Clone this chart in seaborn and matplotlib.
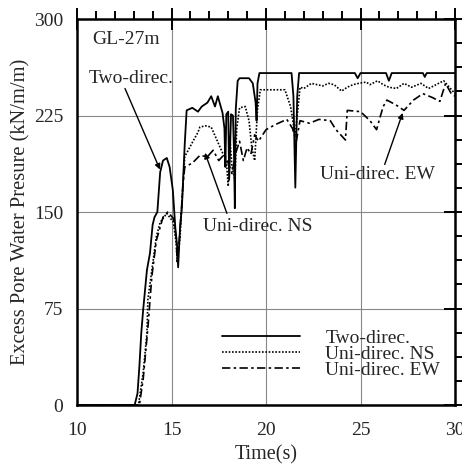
import matplotlib
matplotlib.use("Agg")
import matplotlib.pyplot as plt
from matplotlib.ticker import MultipleLocator
import seaborn as sns
import pandas as pd

# ---------------- data ----------------
t_two = [10, 13.05, 13.2, 13.3, 13.4, 13.5, 13.7, 13.86, 14.0, 14.1, 14.25, 14.4, 14.55, 14.75,
         14.9, 15.07, 15.2, 15.3, 15.35, 15.45, 15.55, 15.7, 15.8, 16.1, 16.4, 16.6, 16.9, 17.1,
         17.3, 17.45, 17.7, 17.8, 17.85, 17.9, 18.0, 18.05, 18.15, 18.25, 18.3, 18.35, 18.4, 18.5,
         18.6, 19.1, 19.3, 19.45, 19.5, 19.55, 19.65, 21.35, 21.45, 21.55, 21.65, 21.75, 24.7,
         24.85, 25.0, 26.35, 26.5, 26.65, 28.3, 28.4, 28.5, 30]
y_two = [0, 0, 9, 30, 56, 74, 105, 118, 140, 146, 150, 181, 190, 192,
         185, 167, 138, 123, 107, 138, 154, 203, 229, 231, 228, 232, 235, 240,
         232, 240, 227, 215, 185, 226, 228, 175, 226, 225, 200, 153, 230, 252,
         254, 254, 250, 235, 221, 250, 258, 258, 240, 169, 240, 258, 258,
         254, 258, 258, 252, 258, 258, 255, 258, 258]

t_ns = [10, 13.25, 13.5, 13.7, 13.75, 13.96, 14.2, 14.4, 14.75, 15.1, 15.25, 15.3, 15.45, 15.6,
        15.7, 16.1, 16.4, 16.5, 16.8, 17.1, 17.4, 17.7, 17.9, 18.0, 18.1, 18.2, 18.35, 18.45,
        18.6, 18.9, 19.1, 19.25, 19.4, 19.55, 19.7, 21.0, 21.3, 21.45, 21.55, 21.8, 22.0, 22.4,
        22.7, 23.0, 23.3, 23.6, 24.0, 24.3, 24.6, 24.9, 25.3, 25.5, 25.9, 26.2, 26.5, 26.9,
        27.3, 27.7, 28.2, 28.6, 29.0, 29.4, 29.7, 30]
y_ns = [0, 0, 25, 56, 82, 105, 131, 142, 149, 142, 125, 112, 130, 170,
        193, 204, 212, 216, 217, 216, 206, 196, 190, 170, 205, 185, 175, 215,
        231, 232, 221, 200, 190, 230, 245, 245, 232, 218, 210, 247, 246, 250,
        249, 248, 250, 249, 244, 247, 249, 250, 251, 249, 252, 249, 247, 246,
        250, 247, 250, 246, 249, 252, 247, 242]

t_ew = [10, 13.3, 13.5, 13.75, 13.96, 14.2, 14.55, 14.8, 15.1, 15.25, 15.3, 15.45, 15.6, 15.7,
        16.1, 16.5, 16.9, 17.2, 17.5, 17.8, 18.0, 18.2, 18.4, 18.6, 18.8, 19.0, 19.2, 19.4,
        19.6, 20.0, 20.5, 21.1, 21.4, 21.6, 21.8, 22.3, 22.8, 23.4, 23.7, 24.2, 24.3, 25.0,
        25.5, 25.85, 26.0, 26.2, 26.4, 26.9, 27.3, 27.8, 28.3, 28.8, 29.2, 29.5, 29.8, 30]
y_ew = [0, 0, 20, 60, 100, 128, 146, 150, 145, 130, 110, 135, 170, 185,
        188, 194, 193, 198, 190, 195, 188, 180, 196, 205, 190, 200, 195, 210,
        205, 214, 218, 222, 215, 205, 221, 219, 222, 221, 214, 206, 229, 228,
        221, 214, 222, 232, 237, 233, 229, 237, 242, 239, 236, 250, 242, 240]

series_labels = ["Two-direc.", "Uni-direc. NS", "Uni-direc. EW"]
x_ticks = [10, 15, 20, 25, 30]
y_ticks = [0, 75, 150, 225, 300]

# ---------------- style ----------------
sns.set_style("white")
plt.rcParams["font.family"] = ["Liberation Serif", "DejaVu Serif"]
plt.rcParams["font.size"] = 14

fig = plt.figure(figsize=(4.62, 4.71), dpi=100)
ax = fig.add_axes([0.1667, 0.1401, 0.8182, 0.8195])

df_two = pd.DataFrame({"t": t_two, "p": y_two})
df_ns = pd.DataFrame({"t": t_ns, "p": y_ns})
df_ew = pd.DataFrame({"t": t_ew, "p": y_ew})

sns.lineplot(data=df_two, x="t", y="p", ax=ax, color="black", lw=1.3,
             label=series_labels[0], sort=False, estimator=None)
sns.lineplot(data=df_ns, x="t", y="p", ax=ax, color="black", lw=1.2,
             linestyle=(0, (1, 1)), label=series_labels[1], sort=False, estimator=None)
sns.lineplot(data=df_ew, x="t", y="p", ax=ax, color="black", lw=1.2,
             linestyle=(0, (5, 2, 1.5, 2)), label=series_labels[2], sort=False, estimator=None)

ax.set_xlim(10, 30)
ax.set_ylim(0, 300)
ax.set_xticks(x_ticks)
ax.set_yticks(y_ticks)
ax.xaxis.set_minor_locator(MultipleLocator(1))
ax.yaxis.set_minor_locator(MultipleLocator(18.75))
ax.tick_params(which="both", top=True, right=True, color="black", labelsize=14)
ax.tick_params(which="major", direction="inout", length=16, width=1.4)
ax.tick_params(which="minor", direction="out", length=6, width=1.4)
ax.tick_params(axis="y", which="major", pad=2)
ax.tick_params(axis="x", which="major", pad=4)
ax.grid(True, which="major", color="#888888", lw=0.8)
for s in ax.spines.values():
    s.set_linewidth(1.8)
    s.set_color("black")

ax.set_xlabel("Time(s)", fontsize=14.5, labelpad=5)
ax.set_ylabel("Excess Pore Water Presure (kN/m/m)", fontsize=14.8, labelpad=2)

ax.text(10.8, 284, "GL-27m", fontsize=14, va="center", ha="left")

arrow = dict(arrowstyle="-|>", color="black", lw=1.0, mutation_scale=8, shrinkA=0, shrinkB=0)
ax.annotate("", xy=(14.39, 183), xytext=(12.54, 246), arrowprops=arrow)
ax.text(12.85, 254, "Two-direc.", fontsize=14, ha="center", va="center")
ax.annotate("", xy=(16.77, 196), xytext=(17.93, 149), arrowprops=arrow)
ax.text(19.57, 139, "Uni-direc. NS", fontsize=14, ha="center", va="center")
ax.annotate("", xy=(27.23, 227), xytext=(26.28, 187), arrowprops=arrow)
ax.text(25.9, 179, "Uni-direc. EW", fontsize=14, ha="center", va="center")

leg = ax.legend(loc="upper left", bbox_to_anchor=(0.384, 0.197), frameon=False,
                borderpad=0, borderaxespad=0, handlelength=4.0, handletextpad=1.3,
                labelspacing=-0.08, fontsize=14)

fig.savefig("out.png", dpi=100)
